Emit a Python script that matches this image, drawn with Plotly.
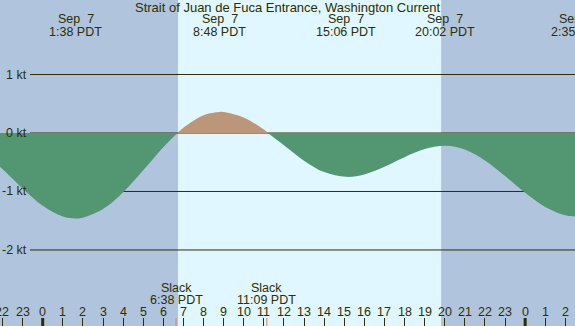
import plotly.graph_objects as go

# ---- data (hours relative to Sep 7 00:00 PDT) ----
hours = [-2.2, -2, -1, 0, 1, 1.633, 2, 3, 4, 5, 6, 6.7, 7, 8, 8.8, 9, 10, 11, 11.2,
         12, 13, 14, 15.1, 16, 17, 18, 19, 20.03, 21, 22, 23, 24, 25, 26, 26.58, 26.7]
current_kt = [-0.554, -0.617, -0.949, -1.244, -1.426, -1.46, -1.448, -1.301, -1.013, -0.636,
              -0.243, 0.0, 0.091, 0.305, 0.36, 0.357, 0.264, 0.058, 0.0,
              -0.209, -0.473, -0.669, -0.75, -0.708, -0.578, -0.413, -0.275, -0.22,
              -0.284, -0.470, -0.737, -1.023, -1.264, -1.407, -1.43, -1.43]

event_hours = [1 + 38/60, 8 + 48/60, 15 + 6/60, 20 + 2/60, 24 + 2 + 35/60]
event_dates = ["Sep\u00a0 7", "Sep\u00a0 7", "Sep\u00a0 7", "Sep\u00a0 7", "Sep\u00a0 8"]
event_times = ["1:38 PDT", "8:48 PDT", "15:06 PDT", "20:02 PDT", "2:35 PDT"]

slack_hours = [6 + 38/60, 11 + 9/60]
slack_times = ["6:38 PDT", "11:09 PDT"]

sunrise, sunset = 6.73, 19.82
tick_hours = list(range(-2, 27))
tick_text = [str(h % 24) for h in tick_hours]
kt_levels = [1, 0, -1, -2]
kt_labels = ["1 kt", "0 kt", "-1 kt", "-2 kt"]
title = "Strait of Juan de Fuca Entrance, Washington Current"

# ---- style ----
W, H = 575, 326
NIGHT = "#b0c4de"
DAY = "#e0f7ff"
EBB = "#529672"
FLOOD = "#bb9678"
INK = "#2e2e00"
FONT = "Liberation Sans, Arial, sans-serif"
XR = [-2.124, 26.48]
YR = [-3.30, 2.274]


def xp(h):
    """hour -> paper fraction along the x axis range"""
    return (h - XR[0]) / (XR[1] - XR[0])


fig = go.Figure()

# split the series into runs of same sign (slack points shared)
runs = []
cur = [(hours[0], current_kt[0])]
sign = -1 if current_kt[0] < 0 else 1
for t, v in zip(hours[1:], current_kt[1:]):
    cur.append((t, v))
    if v == 0:
        runs.append((sign, cur))
        sign = -sign
        cur = [(t, v)]
runs.append((sign, cur))

for s, pts in runs:
    fig.add_trace(go.Scatter(
        x=[p[0] for p in pts], y=[p[1] for p in pts],
        mode="lines", line=dict(width=0, shape="spline", smoothing=1),
        fill="tozeroy", fillcolor=EBB if s < 0 else FLOOD,
        hoverinfo="skip", showlegend=False))

shapes = [dict(type="rect", xref="x", yref="paper", x0=sunrise, x1=sunset, y0=0, y1=1,
               fillcolor=DAY, line=dict(width=0), layer="below")]
for lv in kt_levels:
    shapes.append(dict(type="line", xref="paper", yref="y", x0=30 / W, x1=1, y0=lv, y1=lv,
                       line=dict(color=INK, width=1), layer="below"))
for h in tick_hours:
    if h % 24 == 0:
        shapes.append(dict(type="line", xref="x", yref="paper", x0=h, x1=h, y0=0, y1=8 / H,
                           line=dict(color=INK, width=3)))
for h in slack_hours:
    shapes.append(dict(type="line", xref="x", yref="paper", x0=h, x1=h, y0=0, y1=8 / H,
                       line=dict(color="#d08858", width=1)))

ann = []
f13 = dict(family=FONT, size=13, color=INK)
f125 = dict(family=FONT, size=12.5, color=INK)
ann.append(dict(text=title, xref="paper", yref="paper", x=0.5, y=1 - 7.5 / H,
                xanchor="center", yanchor="middle", showarrow=False, font=f13))
for h, d, tm in zip(event_hours, event_dates, event_times):
    ann.append(dict(text=d, xref="paper", yref="paper", x=xp(h), y=1 - 19.5 / H,
                    xanchor="center", yanchor="middle", showarrow=False, font=f125))
    ann.append(dict(text=tm, xref="paper", yref="paper", x=xp(h), y=1 - 31.5 / H,
                    xanchor="center", yanchor="middle", showarrow=False, font=f125))
for h, tm in zip(slack_hours, slack_times):
    ann.append(dict(text="Slack", xref="paper", yref="paper", x=xp(h), y=1 - 287.5 / H,
                    xanchor="center", yanchor="middle", showarrow=False, font=f125))
    ann.append(dict(text=tm, xref="paper", yref="paper", x=xp(h), y=1 - 299.5 / H,
                    xanchor="center", yanchor="middle", showarrow=False, font=f125))
for h, tt in zip(tick_hours, tick_text):
    ann.append(dict(text=tt, xref="paper", yref="paper", x=xp(h), y=1 - 312 / H,
                    xanchor="center", yanchor="middle", showarrow=False, font=f125))
for lv, lb in zip(kt_levels, kt_labels):
    ann.append(dict(text=lb, xref="paper", yref="y", x=28.5 / W, y=lv,
                    xanchor="right", yanchor="middle", showarrow=False, font=f125))

fig.update_layout(
    width=W, height=H, autosize=False,
    margin=dict(l=0, r=0, t=0, b=0, pad=0),
    paper_bgcolor=NIGHT, plot_bgcolor=NIGHT,
    shapes=shapes, annotations=ann,
    xaxis=dict(range=XR, showgrid=False, zeroline=False, showline=False, automargin=False,
               tickvals=tick_hours, ticks="inside", ticklen=8,
               tickwidth=1, tickcolor=INK, showticklabels=False, fixedrange=True),
    yaxis=dict(range=YR, visible=False, fixedrange=True, automargin=False),
)

fig.write_html("out.html", config={"displayModeBar": False},
               post_script="document.body.style.margin='0';document.body.style.overflow='hidden';")
